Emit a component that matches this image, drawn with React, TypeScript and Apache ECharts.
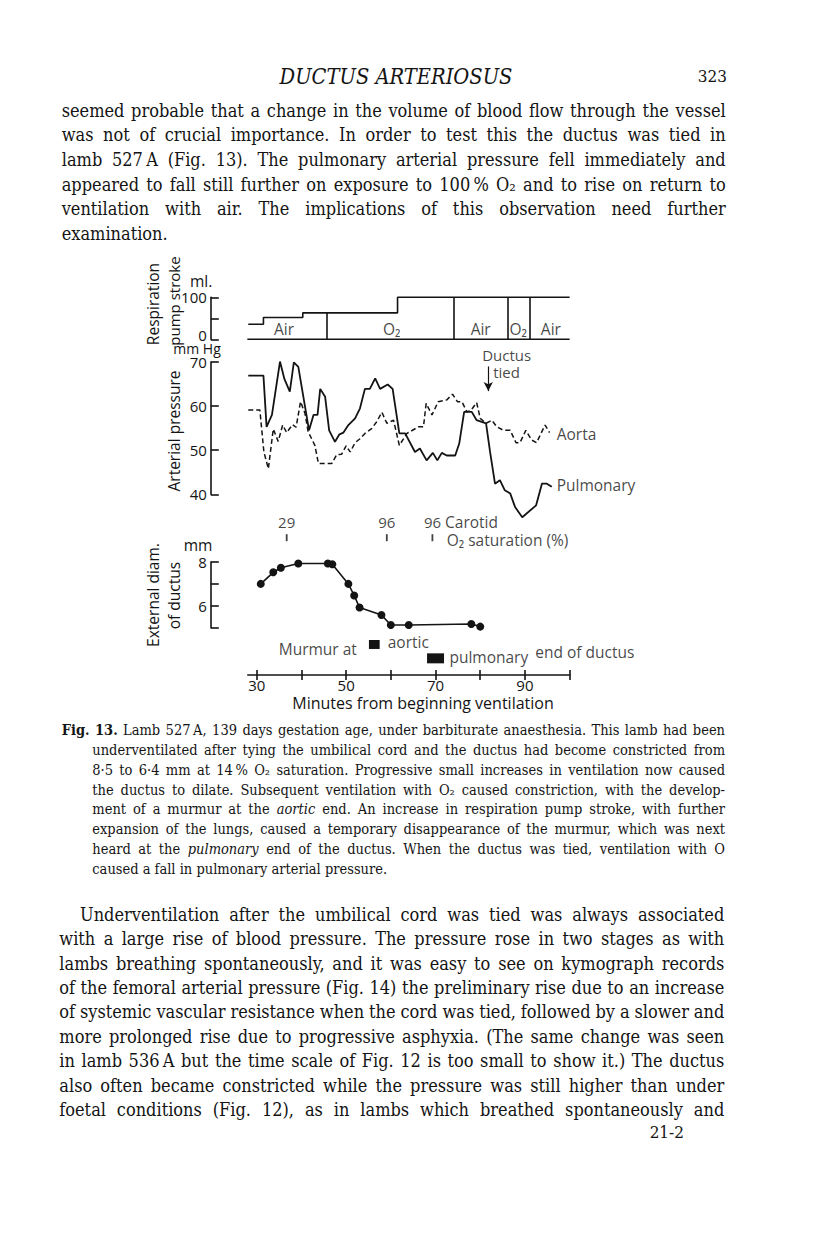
import React, { useEffect, useRef } from "react";
import * as echarts from "echarts";

// ---------------- data (minutes from beginning of ventilation) ----------------
const X_MIN = 28;
const X_MAX = 100;
const minuteTicks = [30, 40, 50, 60, 70, 80, 90, 100];
const minuteLabels = [30, 50, 70, 90];

// respiration pump stroke (ml)
const respStroke = [
  [28.1, 36], [31.5, 36], [31.5, 52], [40.3, 52], [40.3, 63], [61.5, 63], [61.5, 100], [100, 100],
];
const respBaseline = [[27.9, 0], [100, 0]];
const gasChanges = [[45.7, 63], [74.1, 100], [86.1, 100], [91.0, 100]];
const gasNames = ["Air", "O₂", "Air", "O₂", "Air"];
const gasMid = [36.1, 60.2, 80.1, 88.5, 95.8];

// arterial pressure (mm Hg)
const aortaPressure = [
  [28.1, 59.1], [30.7, 59.1], [31.6, 49.6], [32.6, 45.8], [33.7, 54.8], [34.8, 52.0], [35.8, 55.7],
  [36.7, 54.0], [38.0, 55.8], [38.8, 55.2], [39.8, 61.0], [40.8, 58.3], [41.5, 54.2], [43.0, 51.1],
  [43.8, 47.0], [46.8, 47.0], [47.9, 49.0], [49.0, 49.1], [50.0, 51.0], [50.9, 49.6], [52.0, 51.7],
  [53.1, 52.6], [54.2, 53.8], [55.7, 54.9], [56.8, 56.4], [58.0, 58.6], [59.1, 56.1], [60.6, 56.8],
  [61.9, 51.1], [63.6, 53.8], [66.2, 55.3], [67.3, 55.3], [67.9, 60.6], [69.2, 58.0], [70.6, 61.0],
  [72.5, 61.4], [73.8, 62.7], [74.9, 61.0], [75.9, 61.0], [77.0, 58.7], [77.9, 59.0], [79.2, 60.8],
  [80.0, 57.2], [81.3, 56.1], [82.6, 56.8], [83.7, 55.3], [85.2, 54.5], [86.7, 54.5], [88.0, 51.7],
  [88.9, 51.7], [90.2, 54.5], [91.5, 52.3], [92.6, 51.7], [94.5, 55.7], [95.5, 54.0],
];
const pulmonaryPressure = [
  [28.1, 66.9], [31.5, 66.9], [32.2, 55.3], [33.4, 58.0], [35.2, 70.1], [36.2, 66.1], [37.4, 63.3],
  [38.3, 69.9], [39.3, 68.9], [41.7, 54.5], [42.7, 58.0], [43.6, 58.0], [44.2, 63.9], [45.3, 62.1],
  [46.2, 54.5], [47.5, 51.9], [48.5, 53.6], [49.4, 54.0], [50.5, 55.7], [52.0, 57.2], [53.1, 59.5],
  [54.2, 63.9], [55.3, 63.9], [56.5, 66.3], [57.6, 63.9], [59.3, 64.9], [60.4, 63.9], [61.9, 53.8],
  [63.2, 53.8], [65.4, 49.6], [66.5, 50.4], [68.0, 47.7], [69.4, 49.4], [70.4, 47.7], [71.4, 49.4],
  [72.5, 48.8], [74.4, 48.8], [75.3, 51.5], [76.4, 58.7], [78.1, 58.7], [79.2, 56.8], [81.3, 56.1],
  [82.2, 49.6], [83.3, 42.4], [84.4, 43.2], [85.5, 40.9], [86.7, 40.2], [87.8, 37.1], [89.4, 34.8],
  [92.5, 37.5], [93.8, 42.4], [94.9, 42.4], [96.0, 41.7],
];
const ductusTiedAt = 81.8;

// external diameter of ductus (mm)
const ductusDiameter = [
  [30.9, 7.0], [33.7, 7.53], [35.4, 7.74], [39.3, 7.93], [45.9, 7.93], [46.9, 7.9], [50.5, 7.0],
  [51.8, 6.47], [53.0, 5.92], [57.9, 5.58], [60.0, 5.12], [64.0, 5.12], [78.0, 5.17], [80.0, 5.05],
];
// carotid O2 saturation (%)
const carotidTimes = [36.7, 59.1, 69.3];
const carotidSat = [29, 96, 96];
// murmur periods
const murmurAortic = [55.1, 57.5];
const murmurPulmonary = [68.1, 71.9];

// ---------------- page text ----------------
const headerTitle = "DUCTUS ARTERIOSUS";
const pageNumber = "323";
const signature = "21-2";
const topParagraph = [
  "seemed probable that a change in the volume of blood flow through the vessel",
  "was not of crucial importance. In order to test this the ductus was tied in",
  "lamb 527\u2009A (Fig. 13). The pulmonary arterial pressure fell immediately and",
  "appeared to fall still further on exposure to 100\u2009% O₂ and to rise on return to",
  "ventilation with air. The implications of this observation need further",
  "examination.",
];
const captionLines = [
  "^Fig. ^13. Lamb 527\u2009A, 139 days gestation age, under barbiturate anaesthesia. This lamb had been",
  "underventilated after tying the umbilical cord and the ductus had become constricted from",
  "8·5 to 6·4 mm at 14\u2009% O₂ saturation. Progressive small increases in ventilation now caused",
  "the ductus to dilate. Subsequent ventilation with O₂ caused constriction, with the develop-",
  "ment of a murmur at the _aortic end. An increase in respiration pump stroke, with further",
  "expansion of the lungs, caused a temporary disappearance of the murmur, which was next",
  "heard at the _pulmonary end of the ductus. When the ductus was tied, ventilation with O",
  "caused a fall in pulmonary arterial pressure.",
];
const bottomParagraph = [
  "Underventilation after the umbilical cord was tied was always associated",
  "with a large rise of blood pressure. The pressure rose in two stages as with",
  "lambs breathing spontaneously, and it was easy to see on kymograph records",
  "of the femoral arterial pressure (Fig. 14) the preliminary rise due to an increase",
  "of systemic vascular resistance when the cord was tied, followed by a slower and",
  "more prolonged rise due to progressive asphyxia. (The same change was seen",
  "in lamb 536\u2009A but the time scale of Fig. 12 is too small to show it.) The ductus",
  "also often became constricted while the pressure was still higher than under",
  "foetal conditions (Fig. 12), as in lambs which breathed spontaneously and",
];

// ---------------- styling ----------------
const INK = "#141414";
const SANS = '"Open Sans", "Noto Sans", sans-serif';
const SERIF = '"DejaVu Serif Condensed", "DejaVu Serif", serif';
const GRID_LEFT = 247.8;
const PX_PER_MIN = 4.47;
const GRID_W = (X_MAX - X_MIN) * PX_PER_MIN;
const WORD_SIZE = 15.5;
const NUM_SIZE = 15;

let mctx: CanvasRenderingContext2D | null = null;
function textWidth(text: string, size: number, family: string, italic = false, bold = false) {
  if (!mctx) mctx = document.createElement("canvas").getContext("2d");
  mctx!.font = `${italic ? "italic " : ""}${bold ? "bold " : ""}${size}px ${family}`;
  return mctx!.measureText(text).width;
}

function textEl(text: string, x: number, y: number, size: number, opts: any = {}) {
  const align = opts.align || "left";
  return {
    type: "text",
    x,
    y,
    rotation: opts.rotation || 0,
    silent: true,
    style: {
      text,
      fontSize: size,
      fontFamily: opts.family || SERIF,
      fontStyle: opts.italic ? "italic" : "normal",
      fontWeight: opts.bold ? "bold" : "normal",
      fill: INK,
      textAlign: align,
      textVerticalAlign: "middle",
      align,
      verticalAlign: "middle",
    },
  };
}

function parseLine(line: string) {
  return line.split(" ").filter(Boolean).map((tok) => {
    let t = tok;
    let italic = false;
    let bold = false;
    if (t.startsWith("_")) { italic = true; t = t.slice(1); }
    if (t.startsWith("^")) { bold = true; t = t.slice(1); }
    return { t, italic, bold };
  });
}

function layoutBlock(lines: string[], left: number, indents: number[], right: number, y0: number, dy: number, maxSize: number, lastJustified: boolean) {
  const parsed = lines.map(parseLine);
  let size = maxSize;
  parsed.forEach((ws, i) => {
    const justified = i < parsed.length - 1 || lastJustified;
    if (!justified || ws.length < 2) return;
    const avail = right - (left + (indents[i] || 0));
    const sum = ws.reduce((a, w) => a + textWidth(w.t, 100, SERIF, w.italic, w.bold), 0) / 100;
    size = Math.min(size, avail / (sum + 0.22 * (ws.length - 1)));
  });
  const els: any[] = [];
  parsed.forEach((ws, i) => {
    const x0 = left + (indents[i] || 0);
    const justified = i < parsed.length - 1 || lastJustified;
    const widths = ws.map((w) => textWidth(w.t, size, SERIF, w.italic, w.bold));
    const total = widths.reduce((a, b) => a + b, 0);
    const gap = justified && ws.length > 1 ? (right - x0 - total) / (ws.length - 1) : textWidth(" ", size, SERIF);
    let x = x0;
    const y = y0 + i * dy + size * 0.06;
    ws.forEach((w, k) => {
      els.push(textEl(w.t, x, y, size, { italic: w.italic, bold: w.bold }));
      x += widths[k] + gap;
    });
  });
  return els;
}

function ann(x: number, y: number, text: string, align = "left", extra: any = {}) {
  return { value: [x, y], label: { show: true, formatter: text, position: [0, 0], align, verticalAlign: "middle", ...extra } };
}

function buildOption() {
  const labelBase = { show: true, fontFamily: SANS, fontSize: WORD_SIZE, color: INK };
  const axisLineStyle = { color: INK, width: 1.6 };

  const yAxisCommon = (gridIndex: number, min: number, max: number, interval: number, fmt: (v: number) => string, rich: any = undefined) => ({
    type: "value",
    gridIndex,
    min,
    max,
    interval,
    position: "left",
    offset: 37,
    axisLine: { show: true, lineStyle: axisLineStyle },
    axisTick: { show: true, inside: true, length: 8, lineStyle: axisLineStyle },
    axisLabel: { show: true, formatter: fmt, fontFamily: SANS, fontSize: NUM_SIZE, color: INK, margin: 4, rich },
    splitLine: { show: false },
  });
  const hiddenX = (gridIndex: number) => ({ type: "value", gridIndex, min: X_MIN, max: X_MAX, show: false });

  const AORTIC_ROW = 2.84;
  const PULM_ROW = 1.55;

  const headerSize = 233 / textWidth(headerTitle, 1, SERIF, true);
  const graphics: any[] = [
    textEl(headerTitle, 396, 76, headerSize, { italic: true, align: "center" }),
    textEl(pageNumber, 727, 76, 17, { align: "right" }),
    textEl(signature, 684, 1132, 17, { align: "right" }),
    ...layoutBlock(topParagraph, 61.7, [], 725.7, 109.3, 24.6, 18, false),
    ...layoutBlock(captionLines, 61.7, [0, 30.6, 30.6, 30.6, 30.6, 30.6, 30.6, 30.6], 725, 729, 19.9, 14.5, false),
    ...layoutBlock(bottomParagraph, 59.3, [20.7], 724.3, 913.3, 24.4, 18, true),
    // axis titles and units
    textEl("Respiration", 152.5, 304, WORD_SIZE, { family: SANS, align: "center", rotation: Math.PI / 2 }),
    textEl("pump stroke", 173.5, 301, 15, { family: SANS, align: "center", rotation: Math.PI / 2 }),
    textEl("ml.", 190, 280.5, WORD_SIZE, { family: SANS }),
    textEl("mm Hg", 197, 348, 14, { family: SANS, align: "center" }),
    textEl("Arterial pressure", 173.5, 431, WORD_SIZE, { family: SANS, align: "center", rotation: Math.PI / 2 }),
    textEl("External diam.", 152.5, 595, WORD_SIZE, { family: SANS, align: "center", rotation: Math.PI / 2 }),
    textEl("of ductus", 173.5, 595.5, WORD_SIZE, { family: SANS, align: "center", rotation: Math.PI / 2 }),
    textEl("mm", 198, 544.5, WORD_SIZE, { family: SANS, align: "center" }),
    textEl("Minutes from beginning ventilation", 423, 703, 16, { family: SANS, align: "center" }),
  ];

  return {
    animation: false,
    backgroundColor: "#ffffff",
    grid: [
      { left: GRID_LEFT, top: 297.3, width: GRID_W, height: 42 },
      { left: GRID_LEFT, top: 362, width: GRID_W, height: 132.3 },
      { left: GRID_LEFT, top: 562, width: GRID_W, height: 65.7 },
      { left: GRID_LEFT, top: 632, width: GRID_W, height: 43 },
    ],
    xAxis: [
      hiddenX(0),
      hiddenX(1),
      hiddenX(2),
      {
        type: "value",
        gridIndex: 3,
        min: X_MIN,
        max: X_MAX,
        position: "bottom",
        axisLine: { show: true, lineStyle: axisLineStyle },
        axisTick: { show: true, inside: false, length: 5, customValues: minuteTicks, lineStyle: axisLineStyle },
        axisLabel: { show: true, customValues: minuteLabels, fontFamily: SANS, fontSize: NUM_SIZE, color: INK, margin: 2 },
        splitLine: { show: false },
      },
      {
        type: "value",
        gridIndex: 3,
        min: X_MIN,
        max: X_MAX,
        position: "bottom",
        axisLine: { show: false },
        axisTick: { show: true, inside: true, length: 5, customValues: minuteTicks, lineStyle: axisLineStyle },
        axisLabel: { show: false },
        splitLine: { show: false },
      },
    ],
    yAxis: [
      yAxisCommon(0, 0, 100, 50, (v) => (v === 50 ? "" : v === 0 ? "{lo|0}" : String(v)), {
        lo: { fontFamily: SANS, fontSize: NUM_SIZE, color: INK, padding: [0, 0, 9, 0] },
      }),
      yAxisCommon(1, 40, 70, 10, (v) => String(v)),
      yAxisCommon(2, 5, 8, 1, (v) => (v === 8 || v === 6 ? String(v) : "")),
      { type: "value", gridIndex: 3, min: 0, max: 4, show: false },
    ],
    graphic: { elements: graphics },
    series: [
      {
        type: "line",
        xAxisIndex: 0,
        yAxisIndex: 0,
        data: respStroke,
        symbol: "none",
        clip: false,
        lineStyle: { color: INK, width: 1.6 },
        markLine: {
          silent: true,
          symbol: "none",
          label: { show: false },
          lineStyle: { color: INK, width: 1.6, type: "solid" },
          data: gasChanges.map(([t, top]) => [{ coord: [t, 0] }, { coord: [t, top] }]),
        },
      },
      {
        type: "line",
        xAxisIndex: 0,
        yAxisIndex: 0,
        data: respBaseline,
        symbol: "none",
        clip: false,
        lineStyle: { color: INK, width: 1.6 },
      },
      {
        type: "scatter",
        xAxisIndex: 0,
        yAxisIndex: 0,
        symbolSize: 0,
        silent: true,
        clip: false,
        label: labelBase,
        data: gasNames.map((n, i) => ann(gasMid[i], 24.5, n, "center")),
      },
      {
        name: "Aorta",
        type: "line",
        xAxisIndex: 1,
        yAxisIndex: 1,
        data: aortaPressure,
        symbol: "none",
        clip: false,
        lineStyle: { color: INK, width: 1.5, type: [5, 3] },
      },
      {
        name: "Pulmonary",
        type: "line",
        xAxisIndex: 1,
        yAxisIndex: 1,
        data: pulmonaryPressure,
        symbol: "none",
        clip: false,
        lineStyle: { color: INK, width: 1.8 },
      },
      {
        type: "scatter",
        xAxisIndex: 1,
        yAxisIndex: 1,
        symbolSize: 0,
        silent: true,
        clip: false,
        label: labelBase,
        data: [
          ann(ductusTiedAt + 4.1, 71.6, "Ductus", "center", { fontSize: 15 }),
          ann(ductusTiedAt + 1.1, 67.8, "tied", "left", { fontSize: 15 }),
          ann(97.1, 53.6, "Aorta", "left"),
          ann(97.1, 42.0, "Pulmonary", "left"),
        ],
        markLine: {
          silent: true,
          label: { show: false },
          symbol: ["none", "arrow"],
          symbolSize: [7, 9],
          lineStyle: { color: INK, width: 1.2, type: "solid" },
          data: [[{ coord: [ductusTiedAt, 69.0] }, { coord: [ductusTiedAt, 63.4] }]],
        },
      },
      {
        type: "line",
        xAxisIndex: 2,
        yAxisIndex: 2,
        data: ductusDiameter,
        symbol: "circle",
        symbolSize: 8,
        clip: false,
        itemStyle: { color: INK, borderWidth: 0 },
        lineStyle: { color: INK, width: 1.6 },
      },
      {
        type: "scatter",
        xAxisIndex: 2,
        yAxisIndex: 2,
        symbol: "rect",
        symbolSize: [1.8, 7],
        silent: true,
        clip: false,
        itemStyle: { color: INK },
        label: { ...labelBase, fontSize: NUM_SIZE },
        data: carotidTimes.map((t, i) =>
          i < carotidTimes.length - 1
            ? { value: [t, 9.11], label: { show: true, formatter: String(carotidSat[i]), position: [0.9, -12.5], align: "center", verticalAlign: "middle" } }
            : { value: [t, 9.11], label: { show: true, formatter: `${carotidSat[i]} {w|Carotid}`, position: [-7.5, -12.5], align: "left", verticalAlign: "middle", rich: { w: { fontFamily: SANS, fontSize: WORD_SIZE, color: INK } } } }
        ),
      },
      {
        type: "scatter",
        xAxisIndex: 2,
        yAxisIndex: 2,
        symbolSize: 0,
        silent: true,
        clip: false,
        label: labelBase,
        data: [ann(carotidTimes[2] + 3.2, 9.0, "O₂ saturation (%)", "left")],
      },
      {
        type: "line",
        xAxisIndex: 3,
        yAxisIndex: 3,
        data: murmurAortic.map((t) => [t, AORTIC_ROW]),
        symbol: "none",
        clip: false,
        lineStyle: { color: INK, width: 9, cap: "butt" },
      },
      {
        type: "line",
        xAxisIndex: 3,
        yAxisIndex: 3,
        data: murmurPulmonary.map((t) => [t, PULM_ROW]),
        symbol: "none",
        clip: false,
        lineStyle: { color: INK, width: 10, cap: "butt" },
      },
      {
        type: "scatter",
        xAxisIndex: 3,
        yAxisIndex: 3,
        symbolSize: 0,
        silent: true,
        clip: false,
        label: labelBase,
        data: [
          ann(52.4, 2.39, "Murmur at", "right"),
          ann(59.3, 3.07, "aortic", "left"),
          ann(73.1, 1.65, "pulmonary", "left"),
          ann(92.3, 2.14, "end of ductus", "left"),
        ],
      },
    ],
  };
}

export default function App() {
  const ref = useRef<HTMLDivElement>(null);
  useEffect(() => {
    if (!ref.current) return;
    const chart = echarts.init(ref.current, null, { renderer: "svg", width: 816, height: 1233 });
    chart.setOption(buildOption() as any);
    return () => chart.dispose();
  }, []);
  return (
    <div
      ref={ref}
      style={{ position: "absolute", left: 0, top: 0, width: 816, height: 1233, background: "#fff" }}
    />
  );
}
